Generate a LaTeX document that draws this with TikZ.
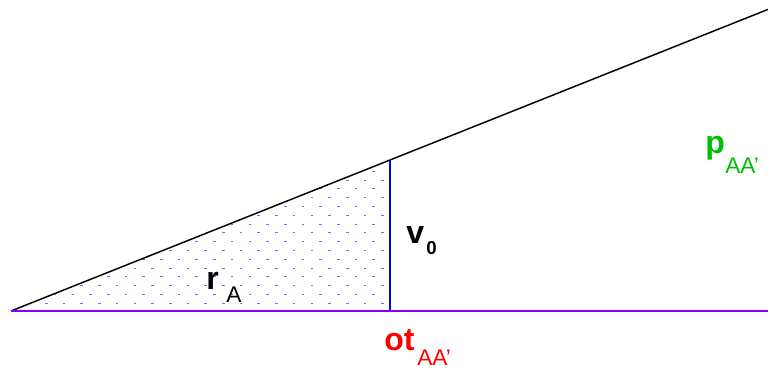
\documentclass[tikz,border=0pt]{standalone}
\usepackage{fontspec}
\setmainfont{Liberation Sans}
\definecolor{baseviolet}{RGB}{128,0,255}
\definecolor{dotblue}{RGB}{110,110,255}
\definecolor{lblgreen}{RGB}{0,190,0}
\tikzset{
  big/.style={inner sep=0pt, anchor=base west, font=\fontsize{24}{24}\selectfont\bfseries},
  sub/.style={inner sep=0pt, anchor=base west, font=\fontsize{17}{17}\selectfont},
  subsmall/.style={inner sep=0pt, anchor=base west, font=\fontsize{14}{14}\selectfont\bfseries},
}
\begin{document}
\begin{tikzpicture}[x=0.75pt,y=-0.75pt]
\useasboundingbox (0,0) rectangle (768,369);
\coordinate (A) at (11,311);
\coordinate (F) at (390,311);
\coordinate (T) at (390,160);
\coordinate (E) at (768,9.4);
\coordinate (B) at (768,311);
% dotted fill
\begin{scope}
\clip (A) -- (F) -- (T) -- cycle;
\foreach \j in {0,...,17}{
  \pgfmathsetmacro{\yy}{303.3-8.8*\j}
  \pgfmathsetmacro{\off}{mod(\j,2)*8.85}
  \foreach \i in {0,...,22}{
    \pgfmathsetmacro{\xx}{27.3+\off+17.7*\i}
    \draw[dotblue, line width=0.7pt] (\xx,\yy) -- ++(2.6,0);
  }
}
\end{scope}
\draw[black, line width=1.1pt] (A) -- (E);
\draw[blue, line width=1.1pt] (F) -- (T);
\draw[baseviolet, line width=1.2pt] (A) -- (B);
% labels
\node[big] (r) at (206,289) {r};
\node[sub] (rs) at (226,302) {A};
\node[big] (v) at (406,243) {v};
\node[subsmall] (vs) at (426,254) {0};
\node[big, text=red] (ot) at (384,350) {ot};
\node[sub, text=red] (ots) at (417,365) {AA\char"27};
\node[big, text=lblgreen] (p) at (705,153) {p};
\node[sub, text=lblgreen] (ps) at (725,173) {AA\char"27};
\end{tikzpicture}
\end{document}
